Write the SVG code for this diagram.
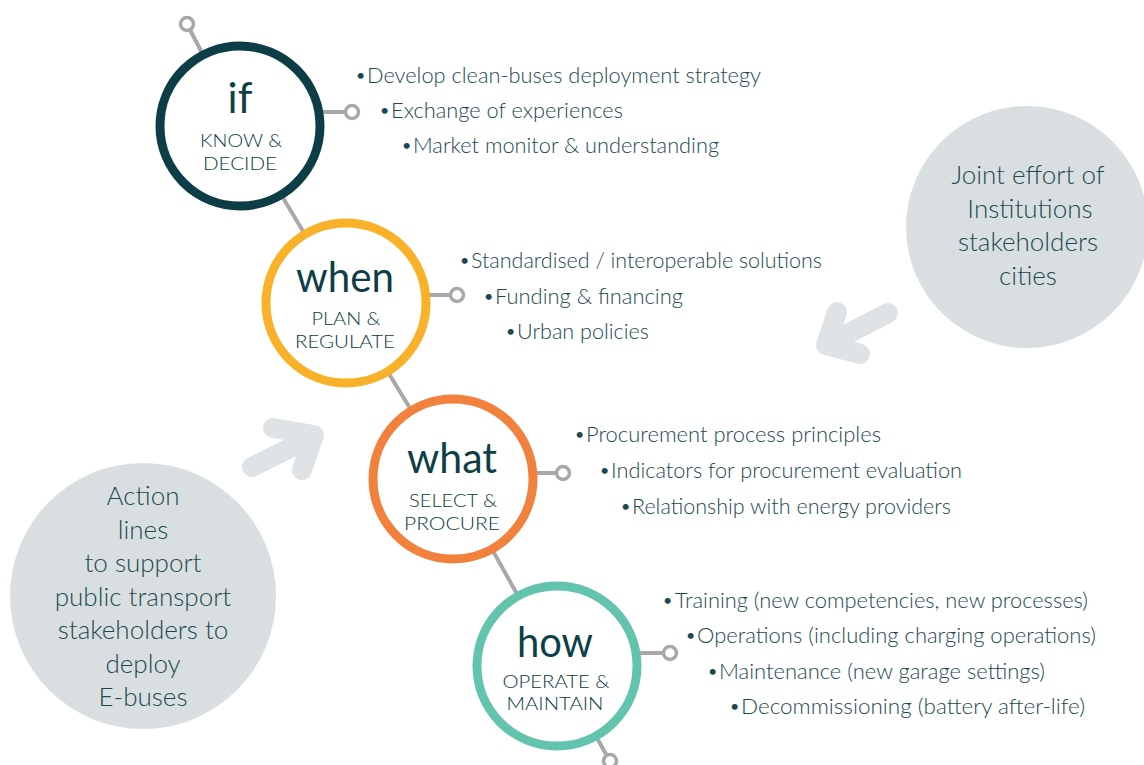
<svg xmlns="http://www.w3.org/2000/svg" width="1144" height="765" viewBox="0 0 1144 765">
<style>
.bg{fill:#d9dfe0}
.arr{fill:none;stroke:#dfe3e6;stroke-width:20;stroke-linecap:round;stroke-linejoin:round}
.ln{stroke:#a8a8a8;stroke-width:4;fill:none}
.dot{fill:#fff;stroke:#a8a8a8;stroke-width:3.5}
.ring{fill:#fff;stroke-width:9}
.big{font-family:Lato,"Noto Sans",sans-serif;font-weight:400;fill:#0e3f47;text-anchor:middle}
.cap{font-family:Lato,"Noto Sans",sans-serif;font-weight:300;fill:#0b3a42;text-anchor:middle;font-size:18px}
.item{font-family:Lato,"Noto Sans",sans-serif;font-weight:300;fill:#1c4951;font-size:21px}
.bul{font-family:Lato,"Noto Sans",sans-serif;font-weight:400;fill:#1c4951;font-size:16px}
.side{font-family:Lato,"Noto Sans",sans-serif;font-weight:300;fill:#1c4951;font-size:26px;text-anchor:middle}
</style>
<rect width="1144" height="765" fill="#fff"/>
<g id="side-right">
<circle class="bg" cx="1027" cy="227" r="121"/>
<text class="side"><tspan x="1028" y="184">Joint effort of</tspan><tspan x="1030" y="218">Institutions</tspan><tspan x="1028" y="251">stakeholders</tspan><tspan x="1028" y="285">cities</tspan></text>
</g>
<g id="side-left">
<circle class="bg" cx="143" cy="596" r="133"/>
<text class="side"><tspan x="143" y="505">Action</tspan><tspan x="143" y="539">lines</tspan><tspan x="143" y="572">to support</tspan><tspan x="143" y="606">public transport</tspan><tspan x="143" y="639">stakeholders to</tspan><tspan x="143" y="673">deploy</tspan><tspan x="143" y="706">E-buses</tspan></text>
</g>
<g id="arrows">
<path class="arr" d="M888,313 L826,345 M837,312 L826,345 L860,354"/>
<path class="arr" d="M252,467 L314,436 M273,428 L314,435 L302,470"/>
</g>
<g id="connectors">
<line class="ln" x1="187" y1="24" x2="240" y2="126"/>
<line class="ln" x1="240" y1="126" x2="346" y2="303"/>
<line class="ln" x1="346" y1="303" x2="453" y2="479"/>
<line class="ln" x1="453" y1="479" x2="557" y2="666"/>
<line class="ln" x1="557" y1="666" x2="612" y2="765"/>
<line class="ln" x1="300" y1="112" x2="352" y2="112"/>
<line class="ln" x1="400" y1="295" x2="457" y2="295"/>
<line class="ln" x1="500" y1="473" x2="563" y2="473"/>
<line class="ln" x1="600" y1="653" x2="670" y2="653"/>
<circle class="dot" cx="187" cy="24" r="6.5"/>
<circle class="dot" cx="352" cy="112" r="6.5"/>
<circle class="dot" cx="457" cy="295" r="6.5"/>
<circle class="dot" cx="563" cy="473" r="6.5"/>
<circle class="dot" cx="670" cy="653" r="6.5"/>
<circle class="dot" cx="610" cy="761" r="6.5"/>
</g>
<g id="node-if">
<circle class="ring" cx="240" cy="126" r="80" stroke="#0d3d47"/>
<text class="big" x="240" y="113" font-size="42">if</text>
<text class="cap" x="241" y="147" textLength="82" lengthAdjust="spacingAndGlyphs">KNOW &amp;</text>
<text class="cap" x="240" y="170" textLength="74" lengthAdjust="spacingAndGlyphs">DECIDE</text>
</g>
<g id="node-when">
<circle class="ring" cx="346" cy="303" r="80" stroke="#f9b12a"/>
<text class="big" x="345" y="292" font-size="42" textLength="98" lengthAdjust="spacingAndGlyphs">when</text>
<text class="cap" x="346" y="325" textLength="69" lengthAdjust="spacingAndGlyphs">PLAN &amp;</text>
<text class="cap" x="345" y="348" textLength="100" lengthAdjust="spacingAndGlyphs">REGULATE</text>
</g>
<g id="node-what">
<circle class="ring" cx="453" cy="479" r="80" stroke="#f2813e"/>
<text class="big" x="452" y="473" font-size="42" textLength="90" lengthAdjust="spacingAndGlyphs">what</text>
<text class="cap" x="453" y="507" textLength="88" lengthAdjust="spacingAndGlyphs">SELECT &amp;</text>
<text class="cap" x="452" y="530" textLength="96" lengthAdjust="spacingAndGlyphs">PROCURE</text>
</g>
<g id="node-how">
<circle class="ring" cx="557" cy="666" r="80" stroke="#63c4ad"/>
<text class="big" x="555" y="657" font-size="42" textLength="76" lengthAdjust="spacingAndGlyphs">how</text>
<text class="cap" x="556" y="688" textLength="107" lengthAdjust="spacingAndGlyphs">OPERATE &amp;</text>
<text class="cap" x="555" y="710" textLength="97" lengthAdjust="spacingAndGlyphs">MAINTAIN</text>
</g>
<g id="items-if">
<text class="bul" x="356" y="81">•</text><text class="item" x="367" y="83" textLength="394" lengthAdjust="spacingAndGlyphs">Develop clean-buses deployment strategy</text>
<text class="bul" x="380" y="116">•</text><text class="item" x="391" y="118" textLength="232" lengthAdjust="spacingAndGlyphs">Exchange of experiences</text>
<text class="bul" x="402" y="151">•</text><text class="item" x="413" y="153" textLength="306" lengthAdjust="spacingAndGlyphs">Market monitor &amp; understanding</text>
</g>
<g id="items-when">
<text class="bul" x="460" y="266">•</text><text class="item" x="471" y="268" textLength="351" lengthAdjust="spacingAndGlyphs">Standardised / interoperable solutions</text>
<text class="bul" x="484" y="302">•</text><text class="item" x="495" y="304" textLength="188" lengthAdjust="spacingAndGlyphs">Funding &amp; financing</text>
<text class="bul" x="506" y="337">•</text><text class="item" x="517" y="339" textLength="132" lengthAdjust="spacingAndGlyphs">Urban policies</text>
</g>
<g id="items-what">
<text class="bul" x="575" y="440">•</text><text class="item" x="586" y="442" textLength="295" lengthAdjust="spacingAndGlyphs">Procurement process principles</text>
<text class="bul" x="600" y="476">•</text><text class="item" x="611" y="478" textLength="351" lengthAdjust="spacingAndGlyphs">Indicators for procurement evaluation</text>
<text class="bul" x="621" y="512">•</text><text class="item" x="632" y="514" textLength="319" lengthAdjust="spacingAndGlyphs">Relationship with energy providers</text>
</g>
<g id="items-how">
<text class="bul" x="663" y="606">•</text><text class="item" x="675" y="608" textLength="413" lengthAdjust="spacingAndGlyphs">Training (new competencies, new processes)</text>
<text class="bul" x="686" y="641">•</text><text class="item" x="697" y="643" textLength="399" lengthAdjust="spacingAndGlyphs">Operations (including charging operations)</text>
<text class="bul" x="708" y="677">•</text><text class="item" x="719" y="679" textLength="326" lengthAdjust="spacingAndGlyphs">Maintenance (new garage settings)</text>
<text class="bul" x="730" y="712">•</text><text class="item" x="741" y="714" textLength="344" lengthAdjust="spacingAndGlyphs">Decommissioning (battery after-life)</text>
</g>
</svg>
